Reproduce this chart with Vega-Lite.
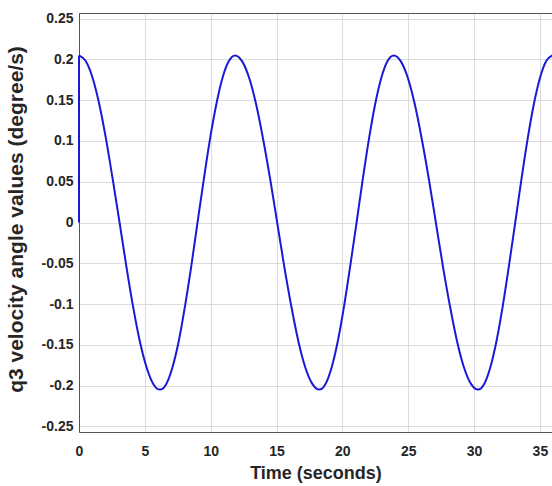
{
  "$schema": "https://vega.github.io/schema/vega-lite/v6.json",
  "width": 473,
  "height": 419,
  "autosize": {"type": "none"},
  "padding": {"left": 79, "top": 13, "right": 0, "bottom": 54},
  "background": "white",
  "config": {
    "view": {"stroke": null},
    "axis": {
      "labelFont": "Liberation Sans",
      "titleFont": "Liberation Sans",
      "labelFontSize": 14,
      "labelFontWeight": "bold",
      "labelColor": "#262626",
      "titleFontWeight": "bold",
      "titleColor": "#262626",
      "gridColor": "#dcdcdc",
      "gridWidth": 1,
      "gridOpacity": 1,
      "domainColor": "#555555",
      "domainWidth": 1,
      "ticks": false
    }
  },
  "encoding": {
    "y": {
      "field": "v",
      "type": "quantitative",
      "scale": {"domain": [-0.257, 0.257], "nice": false, "zero": false},
      "axis": {
        "values": [-0.25, -0.2, -0.15, -0.1, -0.05, 0, 0.05, 0.1, 0.15, 0.2, 0.25],
        "format": "~g",
        "labelExpr": "replace(datum.label, '\u2212', '-')",
        "labelPadding": 6,
        "title": "q3 velocity angle values (degree/s)",
        "titleFontSize": 21,
        "titleX": -63,
        "titleY": 206,
        "titleAngle": -90,
        "titleAlign": "center",
        "titleBaseline": "middle"
      }
    }
  },
  "layer": [
    {
      "data": {"values": [
        {"t": 0, "v": 0.205}, {"t": 0.51, "v": 0.198}, {"t": 1.03, "v": 0.1775}, {"t": 1.54, "v": 0.145}, {"t": 2.05, "v": 0.1025}, {"t": 2.56, "v": 0.0531}, {"t": 3.08, "v": 0}, {"t": 3.59, "v": -0.0531}, {"t": 4.10, "v": -0.1025}, {"t": 4.61, "v": -0.145}, {"t": 5.13, "v": -0.1775}, {"t": 5.64, "v": -0.198}, {"t": 6.15, "v": -0.205},
        {"t": 6.63, "v": -0.198}, {"t": 7.10, "v": -0.1775}, {"t": 7.58, "v": -0.145}, {"t": 8.05, "v": -0.1025}, {"t": 8.53, "v": -0.0531}, {"t": 9.00, "v": 0}, {"t": 9.48, "v": 0.0531}, {"t": 9.95, "v": 0.1025}, {"t": 10.43, "v": 0.145}, {"t": 10.90, "v": 0.1775}, {"t": 11.38, "v": 0.198}, {"t": 11.85, "v": 0.205},
        {"t": 12.38, "v": 0.198}, {"t": 12.92, "v": 0.1775}, {"t": 13.45, "v": 0.145}, {"t": 13.98, "v": 0.1025}, {"t": 14.52, "v": 0.0531}, {"t": 15.05, "v": 0}, {"t": 15.58, "v": -0.0531}, {"t": 16.12, "v": -0.1025}, {"t": 16.65, "v": -0.145}, {"t": 17.18, "v": -0.1775}, {"t": 17.72, "v": -0.198}, {"t": 18.25, "v": -0.205},
        {"t": 18.72, "v": -0.198}, {"t": 19.19, "v": -0.1775}, {"t": 19.66, "v": -0.145}, {"t": 20.13, "v": -0.1025}, {"t": 20.60, "v": -0.0531}, {"t": 21.08, "v": 0}, {"t": 21.55, "v": 0.0531}, {"t": 22.02, "v": 0.1025}, {"t": 22.49, "v": 0.145}, {"t": 22.96, "v": 0.1775}, {"t": 23.43, "v": 0.198}, {"t": 23.90, "v": 0.205},
        {"t": 24.43, "v": 0.198}, {"t": 24.97, "v": 0.1775}, {"t": 25.50, "v": 0.145}, {"t": 26.03, "v": 0.1025}, {"t": 26.57, "v": 0.0531}, {"t": 27.10, "v": 0}, {"t": 27.63, "v": -0.0531}, {"t": 28.17, "v": -0.1025}, {"t": 28.70, "v": -0.145}, {"t": 29.23, "v": -0.1775}, {"t": 29.77, "v": -0.198}, {"t": 30.30, "v": -0.205},
        {"t": 30.77, "v": -0.198}, {"t": 31.24, "v": -0.1775}, {"t": 31.71, "v": -0.145}, {"t": 32.18, "v": -0.1025}, {"t": 32.65, "v": -0.0531}, {"t": 33.13, "v": 0}, {"t": 33.60, "v": 0.0531}, {"t": 34.07, "v": 0.1025}, {"t": 34.54, "v": 0.145}, {"t": 35.01, "v": 0.1775}, {"t": 35.48, "v": 0.198}, {"t": 35.95, "v": 0.205}
      ]},
      "mark": {"type": "line", "color": "#1a1ad6", "strokeWidth": 2, "interpolate": "monotone", "clip": true},
      "encoding": {
        "x": {
          "field": "t",
          "type": "quantitative",
          "scale": {"domain": [0, 35.92], "nice": false, "zero": false},
          "axis": {
            "values": [0, 5, 10, 15, 20, 25, 30, 35],
            "labelPadding": 12,
            "labelFlush": false,
            "title": "Time (seconds)",
            "titleFontSize": 18,
            "titleY": 41,
            "titleBaseline": "middle"
          }
        }
      }
    },
    {
      "data": {"values": [{"t": 0, "v": 0, "v2": 0.205}]},
      "mark": {"type": "rule", "color": "#1a1ad6", "strokeWidth": 2},
      "encoding": {
        "x": {
          "field": "t",
          "type": "quantitative",
          "axis": {"orient": "top", "labels": false, "grid": false, "domain": true, "title": null}
        },
        "y2": {"field": "v2"}
      }
    }
  ],
  "resolve": {"axis": {"x": "independent"}}
}
